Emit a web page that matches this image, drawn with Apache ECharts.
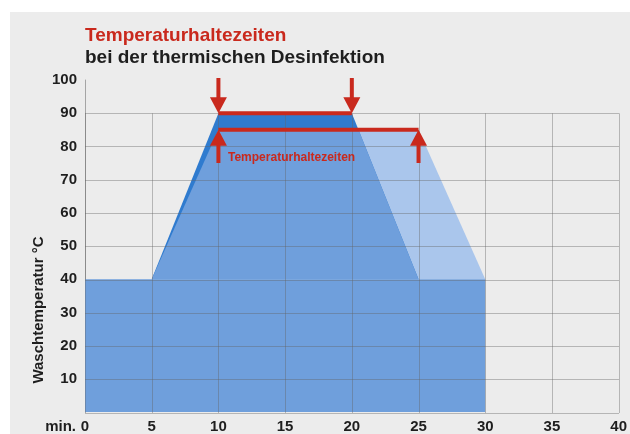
<!DOCTYPE html>
<html>
<head>
<meta charset="utf-8">
<script src="https://cdn.jsdelivr.net/npm/echarts@6/dist/echarts.min.js"></script>
<style>
html,body{margin:0;padding:0;background:#ffffff;}
#chart{width:630px;height:434px;}
</style>
</head>
<body>
<div id="chart"></div>
<script>
// ---- data ----
const titleLine1 = 'Temperaturhaltezeiten';
const titleLine2 = 'bei der thermischen Desinfektion';
const yAxisTitle = 'Waschtemperatur °C';
const xAxisPrefix = 'min.';
const bracketLabel = 'Temperaturhaltezeiten';

// time (min) vs temperature (°C) profiles, as polygon vertices
const profileLight = [[5,40],[10,85],[25,85],[30,40]];   // 85 °C for 15 min
const profileDark  = [[5,40],[10,90],[20,90],[25,40]];   // 90 °C for 10 min
const profileMid   = [[5,40],[10,85],[20.5,85],[25,40]]; // overlap
const profileBase  = [[0,0],[0,40],[30,40],[30,0]];      // 40 °C base

const holdLine90 = [[10,90],[20,90]];
const holdLine85 = [[10,85],[25,85]];
const downArrows = [[10,100.6,90],[20,100.6,90]];
const upArrows   = [[10,75,85],[25,75,85]];

const xMin = 0, xMax = 40, xStep = 5;
const yMin = 0, yMax = 100, yStep = 10, yGridMax = 90;

// ---- styles ----
const shapes = [profileLight, profileDark, profileMid, profileBase];
const shapeColors = ['#aac6ec', '#2f7bcf', '#6f9fdc', '#6f9fdc'];
const red = '#c9291d';
const txt = '#1e1e1e';
const font = 'Liberation Sans, Arial, sans-serif';

const chart = echarts.init(document.getElementById('chart'), null, {renderer:'canvas'});

function arrowItem(params, api) {
  const p0 = api.coord([api.value(0), api.value(1)]);
  const p1 = api.coord([api.value(0), api.value(2)]);
  const dir = p1[1] > p0[1] ? 1 : -1;
  const headLen = 16, halfW = 8.5;
  const baseY = p1[1] - dir * headLen;
  return {
    type: 'group',
    children: [
      {type:'line', shape:{x1:p0[0], y1:p0[1], x2:p0[0], y2:baseY + dir*1}, style:{stroke:red, lineWidth:4}},
      {type:'polygon', shape:{points:[[p1[0]-halfW, baseY],[p1[0]+halfW, baseY],[p1[0], p1[1]]]}, style:{fill:red}}
    ]
  };
}

const gridBox = {left:85, right:11, bottom:21};

const option = {
  animation: false,
  backgroundColor: '#ffffff',
  graphic: [
    {type:'rect', left:10, top:12, z:-10, shape:{width:620, height:422}, style:{fill:'#ececec'}},
    {type:'text', x:85, y:36, z:10, style:{text:titleLine1, font:'bold 19px ' + font, fill:red, textVerticalAlign:'middle'}},
    {type:'text', x:85, y:58, z:10, style:{text:titleLine2, font:'bold 19px ' + font, fill:txt, textVerticalAlign:'middle'}},
    {type:'text', x:39, y:310, rotation:Math.PI/2, z:10, style:{text:yAxisTitle, font:'bold 15px ' + font, fill:txt, textAlign:'center', textVerticalAlign:'middle'}},
    {type:'text', x:76, y:427, z:10, style:{text:xAxisPrefix, font:'bold 15px ' + font, fill:txt, textAlign:'right', textVerticalAlign:'middle'}},
    {type:'text', x:228, y:158, z:10, style:{text:bracketLabel, font:'bold 12px ' + font, fill:red, textVerticalAlign:'middle'}}
  ],
  grid: [
    Object.assign({top:80}, gridBox),
    Object.assign({top:113.3}, gridBox)
  ],
  xAxis: [
    {type:'value', gridIndex:0, min:xMin, max:xMax, interval:xStep,
     axisLine:{show:false}, axisTick:{show:false}, splitLine:{show:false},
     axisLabel:{margin:7, fontSize:15, fontWeight:'bold', color:txt, fontFamily:font}},
    {type:'value', gridIndex:1, min:xMin, max:xMax, interval:xStep, z:3,
     axisLine:{show:false}, axisTick:{show:false}, axisLabel:{show:false},
     splitLine:{show:true, lineStyle:{color:'rgba(100,100,100,0.4)', width:1}}}
  ],
  yAxis: [
    {type:'value', gridIndex:0, min:yMin, max:yMax, interval:yStep,
     axisLine:{show:true, lineStyle:{color:'#a5a5a5', width:1}}, axisTick:{show:false}, splitLine:{show:false},
     axisLabel:{margin:8, fontSize:15, fontWeight:'bold', color:txt, fontFamily:font,
       formatter: v => v === 0 ? '' : String(v)}},
    {type:'value', gridIndex:1, min:yMin, max:yGridMax, interval:yStep, z:3,
     axisLine:{show:false}, axisTick:{show:false}, axisLabel:{show:false},
     splitLine:{show:true, lineStyle:{color:'rgba(100,100,100,0.4)', width:1}}}
  ],
  series: [
    {type:'custom', xAxisIndex:0, yAxisIndex:0, z:1, silent:true,
     data: shapes.map((s, i) => [i]),
     encode:{x:-1, y:-1},
     renderItem: (params, api) => {
       const idx = api.value(0);
       const pts = shapes[idx].map(p => api.coord(p));
       return {type:'polygon', shape:{points:pts}, style:{fill:shapeColors[idx]}};
     }},
    {type:'line', xAxisIndex:0, yAxisIndex:0, z:10, data:holdLine90, symbol:'none', lineStyle:{color:red, width:4}, silent:true},
    {type:'line', xAxisIndex:0, yAxisIndex:0, z:10, data:holdLine85, symbol:'none', lineStyle:{color:red, width:4}, silent:true},
    {type:'custom', xAxisIndex:0, yAxisIndex:0, z:11, silent:true, data:downArrows, encode:{x:0, y:[1,2]}, renderItem:arrowItem, clip:false},
    {type:'custom', xAxisIndex:0, yAxisIndex:0, z:11, silent:true, data:upArrows, encode:{x:0, y:[1,2]}, renderItem:arrowItem, clip:false}
  ]
};
chart.setOption(option);
</script>
</body>
</html>
